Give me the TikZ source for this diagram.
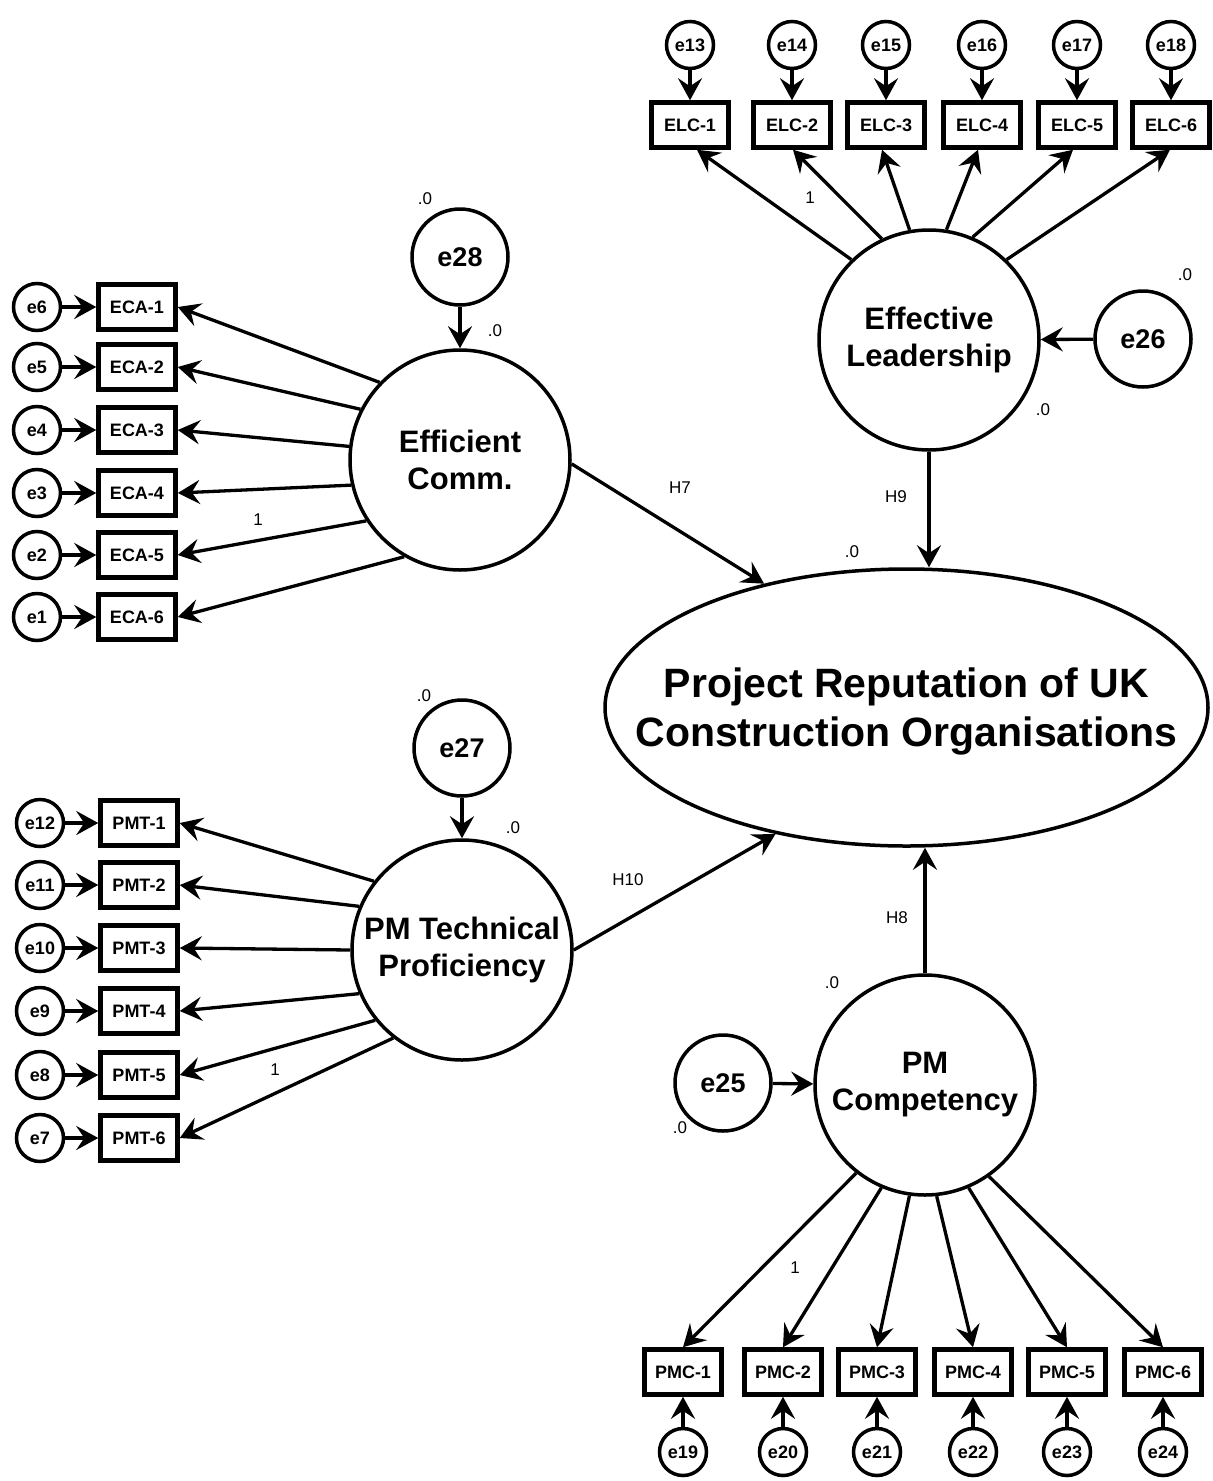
\documentclass[tikz,border=0pt]{standalone}
\usepackage{fontspec}
\setmainfont{Liberation Sans}
\usetikzlibrary{shapes.geometric,arrows.meta}

\begin{document}
\begin{tikzpicture}[x=1pt,y=-1pt,
  every node/.style={inner sep=0pt},
  latent/.style={circle,draw,line width=3.5pt,minimum size=220pt,align=center,
    font=\fontsize{31}{37}\selectfont\bfseries},
  disturb/.style={circle,draw,line width=3.5pt,minimum size=96pt,
    font=\fontsize{27}{32}\selectfont\bfseries},
  err/.style={circle,draw,line width=3.5pt,minimum size=47pt,
    font=\fontsize{18}{21}\selectfont\bfseries},
  ind/.style={rectangle,draw,line width=4.5pt,minimum width=77pt,minimum height=45pt,
    font=\fontsize{18}{21}\selectfont\bfseries},
  lbl/.style={font=\fontsize{17}{20}\selectfont},
  arr/.style={line width=3.3pt,-{Stealth[length=22pt,width=24pt,inset=8pt]}},
]
\useasboundingbox (0,0) rectangle (1213,1481);

% ---------- outcome ----------
\node[ellipse,draw,line width=3.5pt,minimum width=603pt,minimum height=277pt] (PR) at (906.5,707.5) {};
\node[align=center,font=\fontsize{41}{49}\selectfont\bfseries] (PRtext) at (906.5,711.5)
  {Project Reputation of UK\\Construction Organisations};

% ---------- latent constructs ----------
\node[latent] (EC)  at (460,460)  {Efficient\\Comm.};
\node[latent] (EL)  at (929,340)  {Effective\\Leadership};
\node[latent] (PMT) at (462,950)  {PM Technical\\Proficiency};
\node[latent] (PMC) at (925,1085) {PM\\Competency};

% ---------- disturbances ----------
\node[disturb] (e28) at (460,257)  {e28};
\node[disturb] (e27) at (462,748)  {e27};
\node[disturb] (e26) at (1143,339) {e26};
\node[disturb] (e25) at (723,1083) {e25};
\draw[arr] (e28) -- (EC);
\draw[arr] (e27) -- (PMT);
\draw[arr] (e26) -- (EL);
\draw[arr] (e25) -- (PMC);

% ---------- Efficient Comm. indicators ----------
\foreach \i/\y/\e in {1/307/6,2/367/5,3/430/4,4/493/3,5/555/2,6/617/1}{
  \node[ind] (ECA\i) at (137,\y) {ECA-\i};
  \node[err] (e\e) at (37,\y) {e\e};
  \draw[arr] (e\e) -- (ECA\i);
}
\foreach \i/\a in {1/136,2/153,3/173,4/193,5/213,6/240}{
  \draw[arr] (EC.\a) -- (ECA\i.east);
}

% ---------- PM Technical Proficiency indicators ----------
\foreach \i/\y/\e in {1/823/12,2/885/11,3/948/10,4/1011/9,5/1075/8,6/1138/7}{
  \node[ind] (PMT\i) at (139,\y) {PMT-\i};
  \node[err] (e\e) at (40,\y) {e\e};
  \draw[arr] (e\e) -- (PMT\i);
}
\foreach \i/\a in {1/142,2/157,3/180,4/203,5/219,6/232}{
  \draw[arr] (PMT.\a) -- (PMT\i.east);
}

% ---------- Effective Leadership indicators ----------
\foreach \i/\x/\e in {1/690/13,2/792/14,3/886/15,4/982/16,5/1077/17,6/1171/18}{
  \node[ind] (ELC\i) at (\x,125) {ELC-\i};
  \node[err] (e\e) at (\x,45) {e\e};
  \draw[arr] (e\e) -- (ELC\i);
}
\foreach \i/\a/\s in {1/134/7,2/115/1,3/100/-4,4/81/-4,5/67/-4,6/46/-1}{
  \draw[arr] (EL.\a) -- ([xshift=\s pt]ELC\i.south);
}

% ---------- PM Competency indicators ----------
\foreach \i/\x/\e in {1/683/19,2/783/20,3/877/21,4/973/22,5/1067/23,6/1163/24}{
  \node[ind] (PMC\i) at (\x,1372) {PMC-\i};
  \node[err] (e\e) at (\x,1452) {e\e};
  \draw[arr] (e\e) -- (PMC\i);
}
\foreach \i/\a in {1/232,2/247,3/262,4/276,5/293,6/305}{
  \draw[arr] (PMC.\a) -- (PMC\i.north);
}

% ---------- structural paths ----------
\draw[arr] (EC.-2) -- (PR.139);
\draw[arr] (PMT.east) -- (PR.224);
\draw[arr] (EL.south) -- (EL.south |- PR.north);
\draw[arr] (PMC.north) -- (PMC.north |- PR.south);

\node[lbl] (hH7)  at (680,488) {H7};
\node[lbl] (hH9)  at (896,497) {H9};
\node[lbl] (hH10) at (628,880) {H10};
\node[lbl] (hH8)  at (897,918) {H8};

% ---------- fixed loadings ----------
\node[lbl] (one1) at (810,198)  {1};
\node[lbl] (one2) at (258,520)  {1};
\node[lbl] (one3) at (275,1070) {1};
\node[lbl] (one4) at (795,1268) {1};

% ---------- means / intercepts ----------
\node[lbl] (m1) at (425,199)  {.0};
\node[lbl] (m2) at (495,331)  {.0};
\node[lbl] (m3) at (424,696)  {.0};
\node[lbl] (m4) at (513,828)  {.0};
\node[lbl] (m5) at (1043,410) {.0};
\node[lbl] (m6) at (1185,275) {.0};
\node[lbl] (m7) at (852,552)  {.0};
\node[lbl] (m8) at (832,983)  {.0};
\node[lbl] (m9) at (680,1128) {.0};
\end{tikzpicture}
\end{document}
